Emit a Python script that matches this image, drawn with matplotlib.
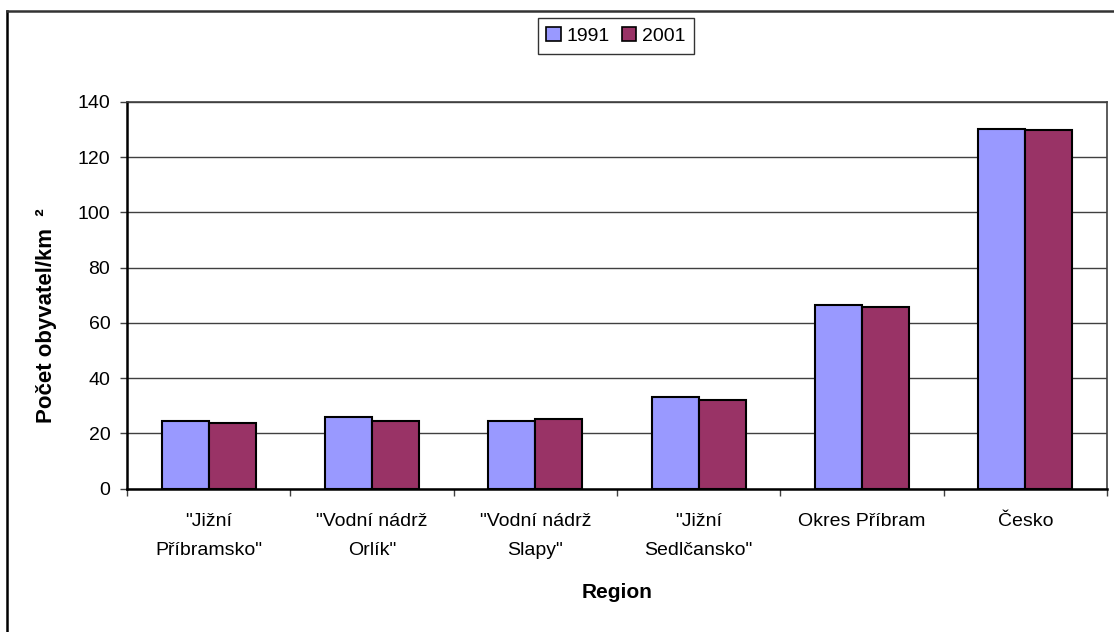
import matplotlib.pyplot as plt
import numpy as np
from matplotlib.patches import Patch
from matplotlib.lines import Line2D

plt.rcParams["font.family"] = ["Liberation Sans", "DejaVu Sans"]

regions = [
    '"Jižní\nPříbramsko"',
    '"Vodní nádrž\nOrlík"',
    '"Vodní nádrž\nSlapy"',
    '"Jižní\nSedlčansko"',
    "Okres Příbram",
    "Česko",
]
density_1991 = [24.3, 25.8, 24.3, 33.0, 66.5, 130.4]
density_2001 = [23.6, 24.3, 25.0, 32.2, 65.8, 129.7]
years = ["1991", "2001"]
yticks = [0, 20, 40, 60, 80, 100, 120, 140]

COLOR_1991 = "#9999FF"
COLOR_2001 = "#993366"

W, H = 1114, 632
fig = plt.figure(figsize=(W / 100, H / 100), dpi=100)

# plot area in pixel coords
left, right, top, bottom = 127, 1107, 102, 488.5
ax = fig.add_axes([left / W, 1 - bottom / H, (right - left) / W, (bottom - top) / H])

x = np.arange(len(regions))
bw = 0.288
ax.bar(x - bw / 2, density_1991, bw, color=COLOR_1991, edgecolor="black",
       linewidth=1.5, zorder=3)
ax.bar(x + bw / 2, density_2001, bw, color=COLOR_2001, edgecolor="black",
       linewidth=1.5, zorder=3)

ax.set_xlim(-0.5, len(regions) - 0.5)
ax.set_ylim(0, 140)
ax.set_yticks(yticks)
ax.yaxis.grid(True, color="#404040", linewidth=1.0, zorder=0)
ax.set_axisbelow(True)

# category labels in the middle, tick marks between the categories
ax.set_xticks(x)
ax.set_xticklabels(regions, linespacing=1.85)
ax.tick_params(axis="x", which="major", length=0, pad=18, labelsize=14)
ax.set_xticks(np.arange(-0.5, len(regions)), minor=True)
ax.tick_params(axis="x", which="minor", length=5, width=1, color="#404040",
               direction="out")
ax.tick_params(axis="y", length=5, width=1, color="#404040", pad=7,
               labelsize=14)

for side in ("left", "bottom"):
    ax.spines[side].set_linewidth(1.8)
    ax.spines[side].set_color("black")
for side in ("top", "right"):
    ax.spines[side].set_linewidth(1.2)
    ax.spines[side].set_color("#404040")

fig.text(47 / W, 1 - 316 / H, "Počet obyvatel/km  ²", rotation=90,
         ha="center", va="center", fontsize=16, fontweight="bold")
fig.text(617 / W, 1 - 592 / H, "Region", ha="center", va="center",
         fontsize=15, fontweight="bold")

handles = [
    Patch(facecolor=COLOR_1991, edgecolor="black", linewidth=1.2),
    Patch(facecolor=COLOR_2001, edgecolor="black", linewidth=1.2),
]
leg = fig.legend(handles, years, loc="center", ncol=2,
                 bbox_to_anchor=(616 / W, 1 - 36 / H), fontsize=14,
                 handlelength=0.75, handleheight=0.75, handletextpad=0.3,
                 columnspacing=0.6, borderpad=0.45, fancybox=False,
                 frameon=True)
leg.get_frame().set_edgecolor("black")
leg.get_frame().set_linewidth(1.0)

# outer chart border (left and top edges are inside the frame)
fig.add_artist(Line2D([7 / W, 7 / W], [1 - 11 / H, 0], transform=fig.transFigure,
                      color="black", linewidth=1.8))
fig.add_artist(Line2D([7 / W, 1], [1 - 11 / H, 1 - 11 / H],
                      transform=fig.transFigure, color="#333333", linewidth=1.8))

fig.savefig("out.png", dpi=100)
